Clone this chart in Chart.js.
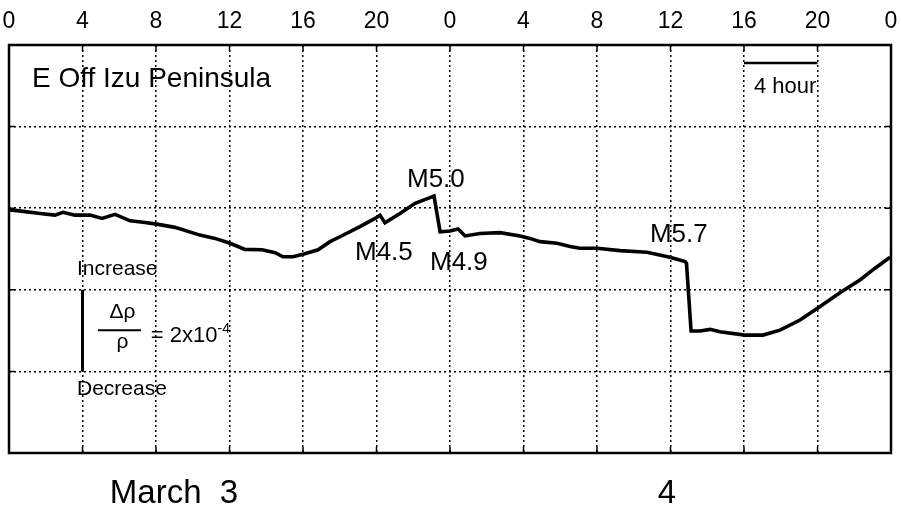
<!DOCTYPE html>
<html>
<head>
<meta charset="utf-8">
<script src="https://cdn.jsdelivr.net/npm/chart.js@4"></script>
<style>
  body { margin: 0; background: #fff; }
  #wrap { width: 901px; height: 513px; }
</style>
</head>
<body>
<div id="wrap"><canvas id="resChart" width="901" height="513"></canvas></div>
<script>
// elapsed hours from 0h March 3
const hours = [0, 0.44, 1.69, 2.5, 2.94, 3.59, 4.41, 5.06, 5.77, 6.59, 7.4, 8.05, 9.03, 10.39,
  11.21, 12.03, 12.84, 13.77, 14.48, 14.91, 15.46, 16.05, 16.82, 17.47, 18.01, 19.1, 19.92,
  20.19, 20.46, 21.28, 22.1, 22.91, 23.13, 23.46, 24.0, 24.44, 24.82, 25.63, 26.72, 27.81,
  28.35, 28.9, 29.82, 30.53, 31.07, 32.0, 33.25, 34.72, 35.97, 36.79, 36.87, 37.12, 37.61,
  38.15, 38.69, 40.05, 41.03, 41.96, 43.05, 44.14, 45.22, 46.31, 47.13, 47.95];
// apparent resistivity change, units of 1e-4 (one grid division = 2e-4)
const resistivity = [5.96, 5.94, 5.87, 5.83, 5.9, 5.83, 5.83, 5.75, 5.85, 5.69, 5.65, 5.61, 5.53, 5.34,
  5.26, 5.14, 4.99, 4.98, 4.91, 4.81, 4.81, 4.88, 4.98, 5.18, 5.3, 5.55, 5.75,
  5.83, 5.64, 5.87, 6.12, 6.26, 6.3, 5.42, 5.44, 5.49, 5.32, 5.38, 5.4, 5.32,
  5.26, 5.18, 5.14, 5.06, 5.02, 5.02, 4.96, 4.92, 4.8, 4.69, 4.65, 2.99, 2.99,
  3.03, 2.97, 2.89, 2.89, 3.01, 3.26, 3.59, 3.93, 4.24, 4.53, 4.8];
const hourTicks = [0, 4, 8, 12, 16, 20, 24, 28, 32, 36, 40, 44, 48];
const quakes = ['M4.5', 'M5.0', 'M4.9', 'M5.7'];
const dayLabels = ['March  3', '4'];

const FONT = '"Liberation Sans", Arial, Helvetica, sans-serif';

const overlay = {
  id: 'overlay',
  afterDatasetsDraw(chart) {
    const ctx = chart.ctx;
    const xs = chart.scales.x, ys = chart.scales.y;
    const a = chart.chartArea;
    const X = h => xs.getPixelForValue(h);
    const Y = v => ys.getPixelForValue(v);
    ctx.save();
    ctx.strokeStyle = '#000';
    ctx.fillStyle = '#000';

    // small solid ticks at the frame
    ctx.lineWidth = 1.5;
    ctx.beginPath();
    hourTicks.slice(1, -1).forEach(h => {
      ctx.moveTo(X(h), a.top); ctx.lineTo(X(h), a.top + 6);
      ctx.moveTo(X(h), a.bottom); ctx.lineTo(X(h), a.bottom - 6);
    });
    [2, 4, 6, 8].forEach(v => {
      ctx.moveTo(a.left, Y(v)); ctx.lineTo(a.left + 6, Y(v));
      ctx.moveTo(a.right, Y(v)); ctx.lineTo(a.right - 6, Y(v));
    });
    ctx.stroke();

    // frame
    ctx.lineWidth = 2.5;
    ctx.strokeRect(a.left, a.top, a.right - a.left, a.bottom - a.top);

    const txt = (s, x, y, size, align) => {
      ctx.font = size + 'px ' + FONT;
      ctx.textAlign = align || 'left';
      ctx.textBaseline = 'alphabetic';
      ctx.fillText(s, x, y);
    };

    txt('E Off Izu Peninsula', X(1.25), Y(8.97), 28);
    txt(quakes[0], X(18.83), Y(4.73), 26);
    txt(quakes[1], X(21.66), Y(6.52), 26);
    txt(quakes[2], X(22.91), Y(4.49), 26);
    txt(quakes[3], X(34.88), Y(5.17), 26);

    // 4 hour scale bar
    ctx.lineWidth = 2.5;
    ctx.beginPath();
    ctx.moveTo(X(40), Y(9.56)); ctx.lineTo(X(44), Y(9.56));
    ctx.stroke();
    txt('4 hour', X(40.54), Y(8.82), 22);

    // resistivity scale bar
    txt('Increase', X(3.7), Y(4.36), 21);
    txt('Decrease', X(3.7), Y(1.42), 21);
    ctx.lineWidth = 3;
    ctx.beginPath();
    ctx.moveTo(X(4), Y(4)); ctx.lineTo(X(4), Y(2));
    ctx.stroke();
    txt('\u0394\u03c1', X(6.18), Y(3.31), 21, 'center');
    ctx.lineWidth = 2;
    ctx.beginPath();
    ctx.moveTo(X(4.84), Y(3.01)); ctx.lineTo(X(7.18), Y(3.01));
    ctx.stroke();
    txt('\u03c1', X(6.18), Y(2.57), 21, 'center');
    ctx.font = '22px ' + FONT;
    const eq = '= 2x10';
    txt(eq, X(7.72), Y(2.72), 22);
    const w = ctx.measureText(eq).width;
    txt('-4', X(7.72) + w, Y(2.94), 14);

    // day labels below the frame
    txt(dayLabels[0], X(8.98), Y(-1.23), 33, 'center');
    txt(dayLabels[1], X(35.8), Y(-1.23), 33, 'center');
    ctx.restore();
  }
};

const ctx = document.getElementById('resChart').getContext('2d');
const resChart = new Chart(ctx, {
  type: 'scatter',
  data: {
    datasets: [{
      data: hours.map((h, i) => ({ x: h, y: resistivity[i] })),
      showLine: true,
      borderColor: '#000',
      borderWidth: 3.6,
      pointRadius: 0,
      tension: 0
    }]
  },
  options: {
    responsive: false,
    animation: false,
    layout: { padding: { left: 9, right: 10, top: 0, bottom: 60 } },
    plugins: { legend: { display: false }, tooltip: { enabled: false } },
    scales: {
      x: {
        type: 'linear',
        position: 'top',
        min: 0,
        max: 48,
        afterBuildTicks: s => { s.ticks = hourTicks.map(v => ({ value: v })); },
        afterFit: s => { s.height = 45; s.paddingLeft = 0; s.paddingRight = 0; },
        ticks: {
          color: '#000',
          padding: 10,
          maxRotation: 0,
          autoSkip: false,
          font: { family: FONT, size: 23 },
          callback: v => String(v % 24)
        },
        grid: { color: '#000', lineWidth: 1.5, drawTicks: false },
        border: { display: false, dash: [2, 3] }
      },
      y: {
        min: 0,
        max: 10,
        afterFit: s => { s.width = 0; s.paddingTop = 0; s.paddingBottom = 0; },
        ticks: { display: false, stepSize: 2 },
        grid: { color: '#000', lineWidth: 1.5, drawTicks: false },
        border: { display: false, dash: [2, 3] }
      }
    }
  },
  plugins: [overlay]
});
</script>
</body>
</html>
